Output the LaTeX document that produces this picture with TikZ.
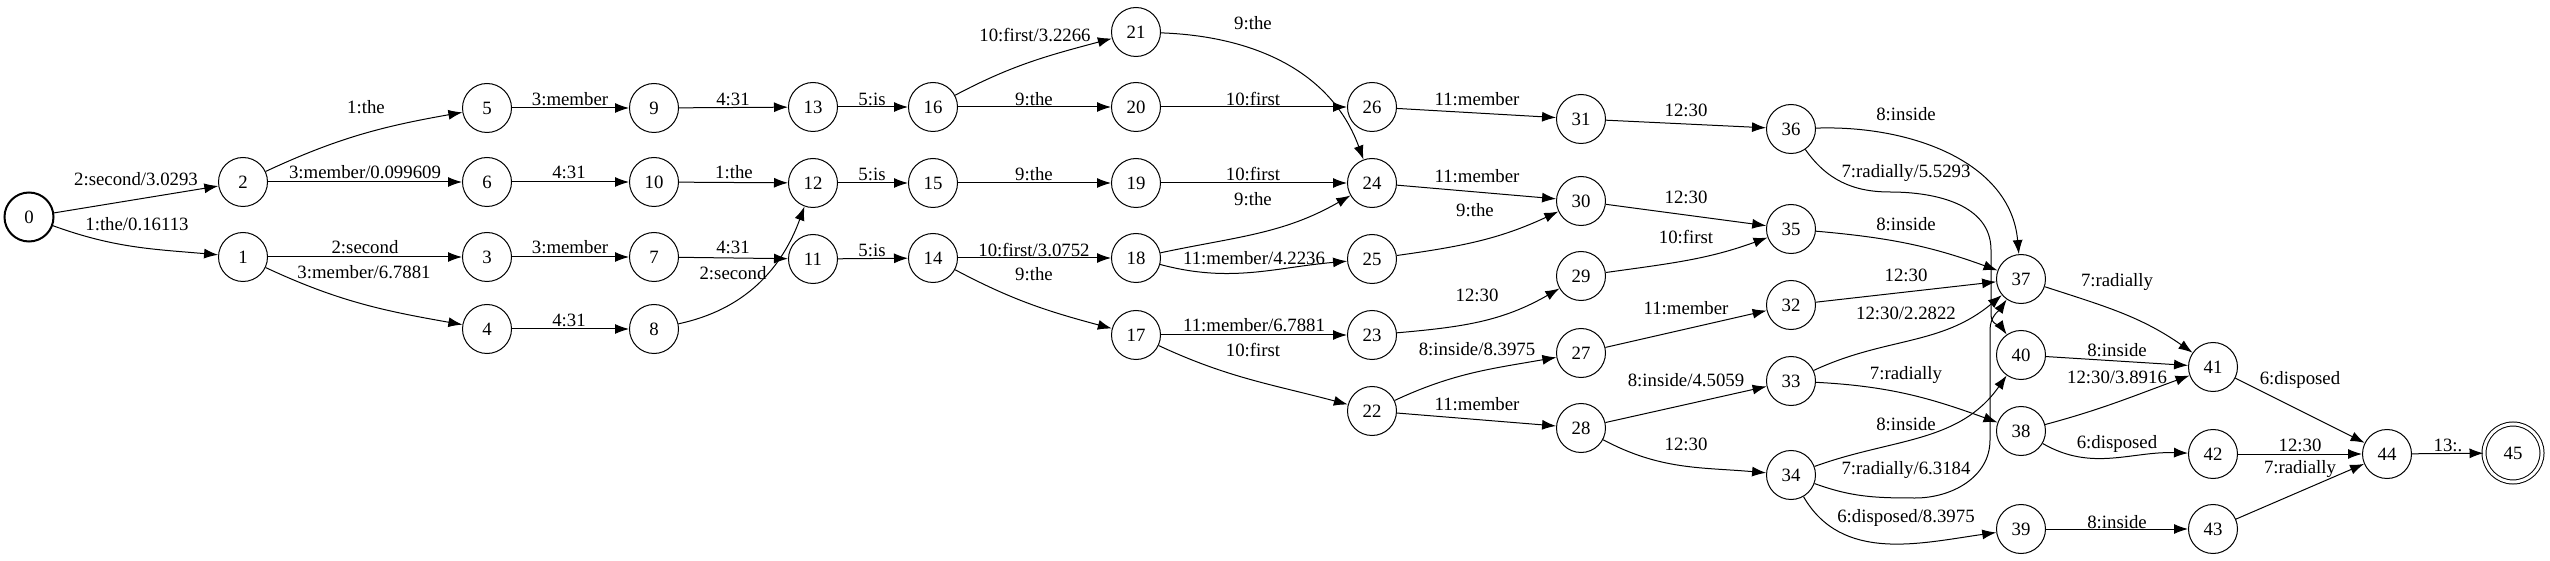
\documentclass[tikz,border=0pt]{standalone}
\usepackage{fontspec}
\setmainfont{Liberation Serif}
\newfontfamily\fstfont{Liberation Serif}
\usepackage{tikz}
\usetikzlibrary{arrows.meta}

\tikzset{
  state/.style={circle, draw, line width=0.5pt, minimum size=24.5pt, inner sep=0pt},
  startstate/.style={state, line width=1pt},
  finalstate/.style={state, double, double distance=1.5pt, minimum size=29pt},
  trans/.style={-{Latex[length=7pt,width=5pt]}, line width=0.5pt},
  lbl/.style={inner sep=0pt}
}

\begin{document}
\begin{tikzpicture}[x=0.5pt, y=0.5pt, font=\fstfont\fontsize{9.4}{11}\selectfont]
  \useasboundingbox (0,0) rectangle (2550,-561);
  % states
  \node[startstate] (s0) at (29,-217) {0};
  \node[state] (s1) at (243,-257) {1};
  \node[state] (s2) at (243,-182) {2};
  \node[state] (s3) at (487,-257) {3};
  \node[state] (s4) at (487,-329) {4};
  \node[state] (s5) at (487,-108) {5};
  \node[state] (s6) at (487,-182) {6};
  \node[state] (s7) at (654,-257) {7};
  \node[state] (s8) at (654,-329) {8};
  \node[state] (s9) at (654,-108) {9};
  \node[state] (s10) at (654,-182) {10};
  \node[state] (s11) at (813,-259) {11};
  \node[state] (s12) at (813,-183) {12};
  \node[state] (s13) at (813,-107) {13};
  \node[state] (s14) at (933,-258) {14};
  \node[state] (s15) at (933,-183) {15};
  \node[state] (s16) at (933,-107) {16};
  \node[state] (s17) at (1136,-335) {17};
  \node[state] (s18) at (1136,-258) {18};
  \node[state] (s19) at (1136,-183) {19};
  \node[state] (s20) at (1136,-107) {20};
  \node[state] (s21) at (1136,-32) {21};
  \node[state] (s22) at (1372,-411) {22};
  \node[state] (s23) at (1372,-335) {23};
  \node[state] (s24) at (1372,-183) {24};
  \node[state] (s25) at (1372,-259) {25};
  \node[state] (s26) at (1372,-107) {26};
  \node[state] (s27) at (1581,-353) {27};
  \node[state] (s28) at (1581,-428) {28};
  \node[state] (s29) at (1581,-276) {29};
  \node[state] (s30) at (1581,-201) {30};
  \node[state] (s31) at (1581,-119) {31};
  \node[state] (s32) at (1791,-305) {32};
  \node[state] (s33) at (1791,-381) {33};
  \node[state] (s34) at (1791,-475) {34};
  \node[state] (s35) at (1791,-229) {35};
  \node[state] (s36) at (1791,-129) {36};
  \node[state] (s37) at (2021,-279) {37};
  \node[state] (s38) at (2021,-431) {38};
  \node[state] (s39) at (2021,-529) {39};
  \node[state] (s40) at (2021,-355) {40};
  \node[state] (s41) at (2213,-367) {41};
  \node[state] (s42) at (2213,-454) {42};
  \node[state] (s43) at (2213,-529) {43};
  \node[state] (s44) at (2387,-454) {44};
  \node[finalstate] (s45) at (2513,-453) {45};
  % transitions
  \draw[trans] (s0) -- (s2) node[lbl] (l0to2) at (136,-179) {2:second/3.0293};
  \draw[trans] (s0) to[out=-20,in=175] (s1) node[lbl] (l0to1) at (137,-224) {1:the/0.16113};
  \draw[trans] (s2) to[out=25,in=-170] (s5) node[lbl] (l2to5) at (366,-107) {1:the};
  \draw[trans] (s2) -- (s6) node[lbl] (l2to6) at (365,-172) {3:member/0.099609};
  \draw[trans] (s1) -- (s3) node[lbl] (l1to3) at (365,-247) {2:second};
  \draw[trans] (s1) to[out=-25,in=170] (s4) node[lbl] (l1to4) at (364,-272) {3:member/6.7881};
  \draw[trans] (s5) -- (s9) node[lbl] (l5to9) at (570,-99) {3:member};
  \draw[trans] (s9) -- (s13) node[lbl] (l9to13) at (733,-99) {4:31};
  \draw[trans] (s6) -- (s10) node[lbl] (l6to10) at (569,-172) {4:31};
  \draw[trans] (s10) -- (s12) node[lbl] (l10to12) at (734,-172) {1:the};
  \draw[trans] (s3) -- (s7) node[lbl] (l3to7) at (570,-247) {3:member};
  \draw[trans] (s7) -- (s11) node[lbl] (l7to11) at (733,-247) {4:31};
  \draw[trans] (s4) -- (s8) node[lbl] (l4to8) at (569,-320) {4:31};
  \draw[trans] (s8) to[out=12,in=-110] (s12) node[lbl] (l8to12) at (733,-273) {2:second};
  \draw[trans] (s13) -- (s16) node[lbl] (l13to16) at (872,-99) {5:is};
  \draw[trans] (s12) -- (s15) node[lbl] (l12to15) at (872,-174) {5:is};
  \draw[trans] (s11) -- (s14) node[lbl] (l11to14) at (872,-250) {5:is};
  \draw[trans] (s16) to[out=28,in=-165] (s21) node[lbl] (l16to21) at (1035,-35) {10:first/3.2266};
  \draw[trans] (s16) -- (s20) node[lbl] (l16to20) at (1034,-99) {9:the};
  \draw[trans] (s15) -- (s19) node[lbl] (l15to19) at (1034,-174) {9:the};
  \draw[trans] (s14) -- (s18) node[lbl] (l14to18) at (1034,-250) {10:first/3.0752};
  \draw[trans] (s14) to[out=-28,in=165] (s17) node[lbl] (l14to17) at (1034,-274) {9:the};
  \draw[trans] (s21) to[out=-2,in=110] (s24) node[lbl] (l21to24) at (1253,-23) {9:the};
  \draw[trans] (s20) -- (s26) node[lbl] (l20to26) at (1253,-99) {10:first};
  \draw[trans] (s19) -- (s24) node[lbl] (l19to24) at (1253,-174) {10:first};
  \draw[trans] (s18) to[out=12,in=-150] (s24) node[lbl] (l18to24) at (1253,-199) {9:the};
  \draw[trans] (s18) to[out=-15,in=-175] (s25) node[lbl] (l18to25) at (1254,-258) {11:member/4.2236};
  \draw[trans] (s17) -- (s23) node[lbl] (l17to23) at (1254,-325) {11:member/6.7881};
  \draw[trans] (s17) to[out=-25,in=165] (s22) node[lbl] (l17to22) at (1253,-350) {10:first};
  \draw[trans] (s26) -- (s31) node[lbl] (l26to31) at (1477,-99) {11:member};
  \draw[trans] (s24) -- (s30) node[lbl] (l24to30) at (1477,-176) {11:member};
  \draw[trans] (s25) to[out=8,in=-155] (s30) node[lbl] (l25to30) at (1475,-210) {9:the};
  \draw[trans] (s23) to[out=5,in=-150] (s29) node[lbl] (l23to29) at (1477,-295) {12:30};
  \draw[trans] (s22) to[out=25,in=-170] (s27) node[lbl] (l22to27) at (1477,-349) {8:inside/8.3975};
  \draw[trans] (s22) -- (s28) node[lbl] (l22to28) at (1477,-404) {11:member};
  \draw[trans] (s31) -- (s36) node[lbl] (l31to36) at (1686,-110) {12:30};
  \draw[trans] (s30) -- (s35) node[lbl] (l30to35) at (1686,-197) {12:30};
  \draw[trans] (s29) to[out=8,in=-160] (s35) node[lbl] (l29to35) at (1686,-237) {10:first};
  \draw[trans] (s27) -- (s32) node[lbl] (l27to32) at (1686,-308) {11:member};
  \draw[trans] (s28) -- (s33) node[lbl] (l28to33) at (1686,-380) {8:inside/4.5059};
  \draw[trans] (s28) to[out=-28,in=175] (s34) node[lbl] (l28to34) at (1686,-444) {12:30};
  \draw[trans] (s36) to[out=2,in=95] (s37) node[lbl] (l36to37) at (1906,-114) {8:inside};
  \draw[trans] (s36) to[out=-55,in=180] (1890,-192) to[out=0,in=90] (1991,-250) -- (1991,-315)
    to[out=-90,in=125] (s40) node[lbl] (l36to40) at (1906,-173) {7:radially/5.5293};
  \draw[trans] (s35) to[out=-5,in=160] (s37) node[lbl] (l35to37) at (1906,-224) {8:inside};
  \draw[trans] (s32) -- (s37) node[lbl] (l32to37) at (1906,-275) {12:30};
  \draw[trans] (s33) to[out=25,in=-140] (s37) node[lbl] (l33to37) at (1906,-313) {12:30/2.2822};
  \draw[trans] (s33) to[out=-3,in=160] (s38) node[lbl] (l33to38) at (1906,-375) {7:radially};
  \draw[trans] (s34) to[out=20,in=-125] (s40) node[lbl] (l34to40) at (1906,-424) {8:inside};
  \draw[trans] (s34) to[out=-20,in=180] (1915,-498) to[out=0,in=-90] (1990,-440) -- (1990,-330)
    to[out=90,in=-125] (s37) node[lbl] (l34to37) at (1906,-470) {7:radially/6.3184};
  \draw[trans] (s34) to[out=-60,in=-172] (s39) node[lbl] (l34to39) at (1906,-518) {6:disposed/8.3975};
  \draw[trans] (s37) to[out=-18,in=145] (s41) node[lbl] (l37to41) at (2117,-282) {7:radially};
  \draw[trans] (s40) -- (s41) node[lbl] (l40to41) at (2117,-350) {8:inside};
  \draw[trans] (s38) to[out=15,in=-160] (s41) node[lbl] (l38to41) at (2117,-377) {12:30/3.8916};
  \draw[trans] (s38) to[out=-30,in=178] (s42) node[lbl] (l38to42) at (2117,-444) {6:disposed};
  \draw[trans] (s39) -- (s43) node[lbl] (l39to43) at (2117,-522) {8:inside};
  \draw[trans] (s41) -- (s44) node[lbl] (l41to44) at (2300,-380) {6:disposed};
  \draw[trans] (s42) -- (s44) node[lbl] (l42to44) at (2300,-445) {12:30};
  \draw[trans] (s43) -- (s44) node[lbl] (l43to44) at (2300,-469) {7:radially};
  \draw[trans] (s44) -- (s45) node[lbl] (l44to45) at (2448,-445) {13:.};
\end{tikzpicture}
\end{document}
